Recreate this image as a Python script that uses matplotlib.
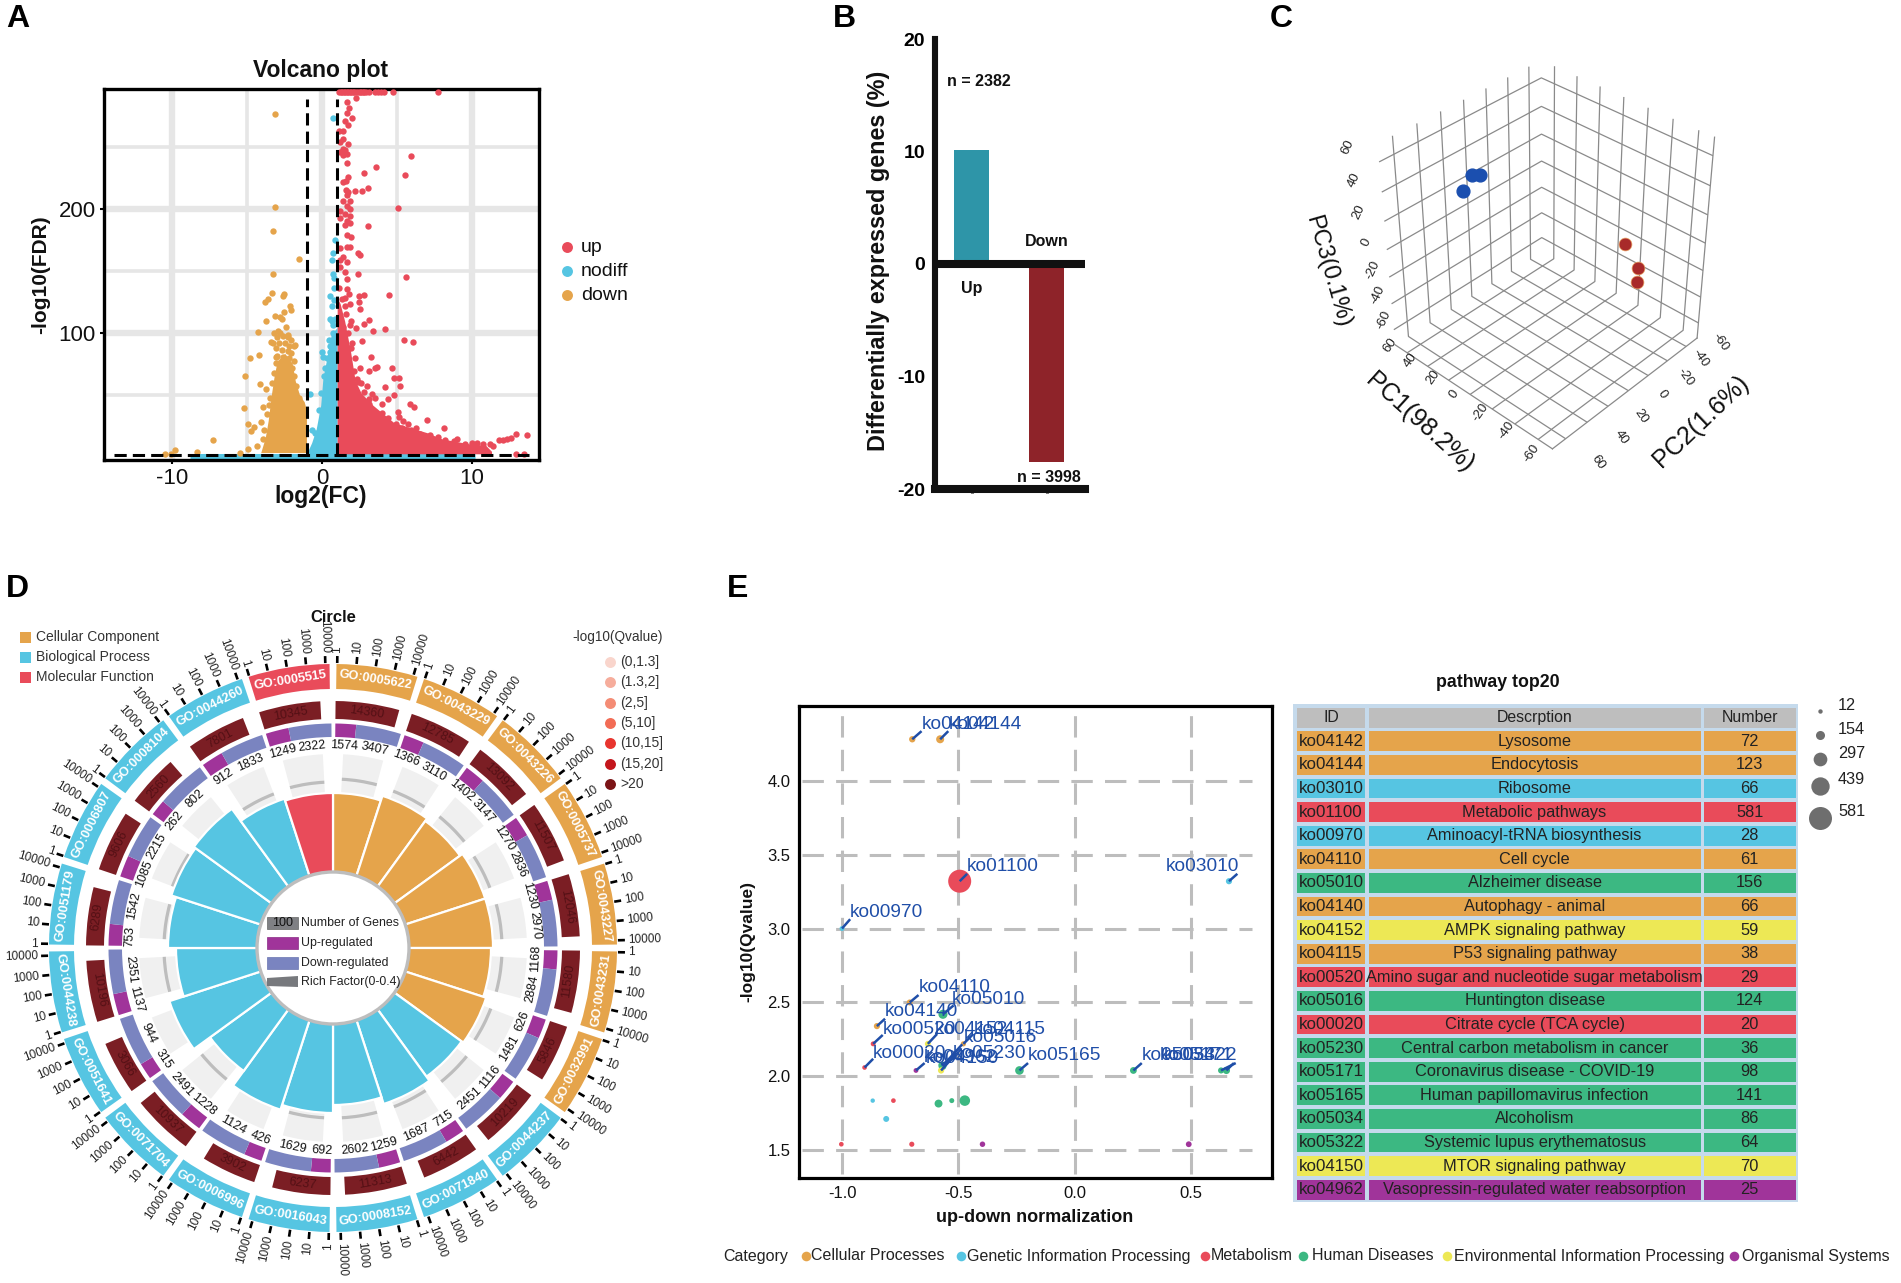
import numpy as np
import matplotlib
matplotlib.use("Agg")
import matplotlib.pyplot as plt
from matplotlib.patches import Rectangle, Polygon, Circle

plt.rcParams['font.family'] = ['Liberation Sans', 'DejaVu Sans']
plt.rcParams['axes.unicode_minus'] = False
W, H = 1901, 1283
fig = plt.figure(figsize=(W / 100, H / 100), dpi=100, facecolor='white')

ORANGE, BLUE, RED = '#E5A44B', '#56C5E2', '#E94B5A'
GREEN, YELLOW, PURPLE = '#3CB882', '#EDE855', '#A0349A'


def px_axes(l, t, r, b, **kw):
    return fig.add_axes([l / W, 1 - b / H, (r - l) / W, (b - t) / H], **kw)


# ---------------------------- A: volcano data ---------------------------
up_x = [1.65, 2.29, 1.82, 1.65, 2.0, 1.5, 1.74, 1.13, 1.36, 1.36, 1.22, 1.74, 1.36, 1.5, 1.22, 1.65, 1.42, 5.9,
        1.68, 3.56, 2.78, 5.53, 1.74, 1.56, 1.36, 3.04, 2.66, 1.6, 1.74, 2.17, 1.65, 5.09, 1.36, 1.88, 1.65, 1.22,
        1.88, 1.5, 1.22, 1.88, 3.04, 1.65, 1.5, 1.88, 1.65, 1.94, 1.22, 1.88, 1.65, 2.37, 2.52, 1.36, 1.22, 1.65,
        1.16, 2.37, 1.5, 1.65, 5.6, 1.13, 1.65, 1.8, 4.46, 2.8, 2.46, 1.5, 2.46, 1.88, 2.52, 3.1, 2.8, 4.2, 3.39,
        1.88, 2.23, 5.47, 6.05, 2.66, 1.94, 3.24, 3.68, 4.63, 3.53, 3.1, 4.78, 5.12, 2.37, 5.18, 4.17, 2.8, 3.33,
        4.78, 4.4, 3.97, 3.1, 5.85, 6.14, 5.07, 3.82, 5.12, 5.41, 7.0, 4.2, 5.7, 6.28, 8.16, 5.27, 4.7, 9.03, 12.94,
        13.66, 12.36, 11.8, 11.2, 10.33, 12.94, 13.5,
        1.15, 1.25, 1.35, 1.45, 1.55, 1.65, 1.75, 1.85, 1.95, 2.05, 2.15, 2.25, 2.4, 2.5, 2.6, 2.7, 2.8, 2.9, 3.1,
        3.5, 3.7, 3.9, 4.1, 4.7, 7.7,
        1.3, 1.5, 1.2, 1.6, 1.9, 1.4, 1.7, 2.0, 1.4, 1.8, 2.2, 2.5, 2.1, 2.6, 3.0, 2.3, 3.5, 4.0, 3.1, 4.4, 4.9,
        5.3, 5.9, 6.5, 7.2, 7.7, 8.2, 8.8, 9.5, 10.0, 10.7, 11.4, 12.1, 12.6]
up_y = [287, 290, 282, 278, 274, 271, 268, 263, 263, 257, 254.5, 253, 249, 248, 246, 245, 243.6, 243,
        237.6, 234, 229, 228, 226, 223, 222, 217, 215, 216, 214, 215, 212, 201, 207, 207, 203, 199,
        200, 196, 193, 194.5, 187, 190.5, 187.7, 189, 179, 178, 168.7, 169.5, 170, 164.6, 163, 162, 159, 158,
        153.7, 148, 149.6, 144, 145.5, 137, 136, 132, 131, 131, 130.5, 129, 125, 123.7, 119.6, 111, 108, 103.5, 102,
        107, 104.6, 95, 93, 93.7, 88, 81, 73, 72.5, 72, 70, 64, 64, 61, 58, 57, 53, 51.5,
        50, 47.4, 43, 43, 43, 40.6, 36.5, 33.8, 32.4, 29.7, 30, 27.8, 27, 24, 24, 20, 18.8, 15, 18.8,
        18, 15, 14, 10.6, 12, 2.5, 2.5,
        295, 295, 295, 295, 295, 295, 295, 295, 295, 295, 295, 295, 295, 295, 295, 295, 295, 295, 295,
        295, 295, 295, 295, 295, 295,
        128, 122, 112, 116, 110, 105, 100, 92, 95, 88, 80, 72, 70, 60, 58, 63, 48, 36, 47, 32, 27,
        24, 22, 19, 18, 16.5, 14, 13, 11, 12, 11, 9, 14, 16]
up_band_x = [1.0, 1.2, 1.5, 1.9, 2.2, 2.6, 3.4, 4.8, 7.0, 8.0, 10.0, 10.9, 11.3]
up_band_top = [129, 124, 110, 85, 62, 52, 42, 28, 20, 15, 10.6, 10, 5]

down_x = [-3.17, -3.15, -3.28, -1.56, -3.3, -3.37, -2.52, -2.63, -3.6, -3.82, -2.12, -2.06, -2.56, -3.12, -2.83,
          -2.69, -3.72, -2.4, -4.27, -2.98, -2.26, -3.4, -1.82, -4.19, -4.8, -3.1, -5.17, -4.15, -3.75, -5.25, -3.97,
          -4.95, -4.08, -4.75, -4.55, -7.26, -9.84, -10.1, -10.5, -8.35, -5.5, -4.95, -4.37,
          -3.2, -3.0, -2.8, -2.6, -2.3, -2.1, -3.25, -2.9, -2.5, -2.2, -1.9, -3.1, -2.7, -2.3, -2.05, -3.0, -2.6,
          -2.2, -1.9, -3.1, -2.8, -2.4, -2.0, -3.2, -1.85, -3.35, -1.75, -3.5, -3.55, -1.55, -3.7, -3.85, -3.95]
down_y = [277, 202, 183, 160, 148, 133, 132, 130, 128, 125, 122, 119, 117, 114, 113,
          112, 110, 105, 101, 102, 99, 93, 90.5, 83, 80, 81, 66, 59.5, 55, 40, 41,
          27, 29, 21, 25, 14, 6, 2.5, 3, 4.5, 4, 7, 9,
          100, 97, 100, 98, 97, 95, 92, 92, 92, 90, 90, 88, 87, 86, 84, 82, 81,
          80, 78, 76, 75, 74, 72, 68, 66, 60, 58, 48, 42, 48, 35, 22, 15]
down_band_x = [-4.1, -3.8, -3.6, -3.4, -3.2, -3.0, -2.5, -2.0, -1.8, -1.5, -1.2, -1.05]
down_band_top = [4, 16, 30, 50, 66, 78, 84, 76, 62, 50, 45, 38]

nodiff_x = [0.75, 0.84, 0.72, 0.63, 0.72, 0.78, 0.78, 0.55, 0.78, 0.64, 0.49, 0.72, 0.06, 0.49, -0.81, -0.67,
            0.1, 0.3, 0.5, 0.7, 0.2, -0.05, -0.2, -0.5, 0.0, 0.45, 0.65, 0.85]
nodiff_y = [274, 175, 165, 159, 148, 145, 137, 130, 127, 122, 112, 107, 81, 85, 51, 22,
            66, 80, 90, 100, 72, 52, 38, 20, 85, 95, 110, 112]
nodiff_band_x = [-1.0, -0.7, -0.4, -0.1, 0.05, 0.26, 0.6, 1.0]
nodiff_band_top = [4, 12, 23, 42, 64, 77, 99, 105]
nodiff_strip_x = [-8.8, 10.2]
nodiff_strip_y = [1.6, 1.6]
volcano_names = ['up', 'nodiff', 'down']

# ---------------------------- B ------------------------------------------
deg_categories = [0, 1]
deg_values = [10.1, -17.6]
deg_counts = ['n = 2382', 'n = 3998']

# ---------------------------- C ------------------------------------------
pc_blue_1 = [45, 45, 45]
pc_blue_2 = [21, 14, 29]
pc_blue_3 = [40, 37, 33]
pc_red_1 = [-45, -45, -45]
pc_red_2 = [-24, -38, -38]
pc_red_3 = [10, -14, -24]
pc_ticks = [-60, -40, -20, 0, 20, 40, 60]

# ---------------------------- D ------------------------------------------
go_ids = ['GO:0005622', 'GO:0043229', 'GO:0043226', 'GO:0005737', 'GO:0043227', 'GO:0043231', 'GO:0032991',
          'GO:0044237', 'GO:0071840', 'GO:0008152', 'GO:0016043', 'GO:0006996', 'GO:0071704', 'GO:0051641',
          'GO:0044238', 'GO:0051179', 'GO:0006807', 'GO:0008104', 'GO:0044260', 'GO:0005515']
go_class = ['C'] * 7 + ['B'] * 12 + ['M']
go_total = [14360, 12785, 13092, 11507, 12046, 11580, 5846, 10219, 6442, 11313, 6237, 3902, 10937, 3066, 10196,
            6289, 9606, 2560, 7801, 10345]
go_up = [1574, 1366, 1402, 1270, 1230, 1168, 626, 1116, 715, 1259, 692, 426, 1228, 315, 1137, 753, 1085, 262, 912,
         1249]
go_down = [3407, 3110, 3147, 2836, 2970, 2884, 1481, 2451, 1687, 2602, 1629, 1124, 2491, 944, 2351, 1542, 2215, 802,
           1833, 2322]
go_bar_r = [155, 160, 157, 160, 160, 158, 161, 159, 164, 157, 165, 170, 152, 172, 157, 165, 170, 172, 157, 155]
go_rich_r = [169, 168, 169, 168, 169, 169, 169, 172, 170, 170, 170, 168, 169, 160, 169, 169, 172, 160, 165, 166]
go_log_ticks = [1, 10, 100, 1000, 10000]
class_names = ['Cellular Component', 'Biological Process', 'Molecular Function']
q_names = ['(0,1.3]', '(1.3,2]', '(2,5]', '(5,10]', '(10,15]', '(15,20]', '>20']
q_colors = ['#F9D5CC', '#F6AD9C', '#F48C75', '#F26C55', '#E8352E', '#C4161C', '#7B1416']

# ---------------------------- E ------------------------------------------
ko_ids = ['ko04142', 'ko04144', 'ko03010', 'ko01100', 'ko00970', 'ko04110', 'ko05010', 'ko04140', 'ko04152',
          'ko04115', 'ko00520', 'ko05016', 'ko00020', 'ko05230', 'ko05171', 'ko05165', 'ko05034', 'ko05322',
          'ko04150', 'ko04962']
ko_desc = ['Lysosome', 'Endocytosis', 'Ribosome', 'Metabolic pathways', 'Aminoacyl-tRNA biosynthesis', 'Cell cycle',
           'Alzheimer disease', 'Autophagy - animal', 'AMPK signaling pathway', 'P53 signaling pathway',
           'Amino sugar and nucleotide sugar metabolism', 'Huntington disease', 'Citrate cycle (TCA cycle)',
           'Central carbon metabolism in cancer', 'Coronavirus disease - COVID-19', 'Human papillomavirus infection',
           'Alcoholism', 'Systemic lupus erythematosus', 'MTOR signaling pathway',
           'Vasopressin-regulated water reabsorption']
ko_number = [72, 123, 66, 581, 28, 61, 156, 66, 59, 38, 29, 124, 20, 36, 98, 141, 86, 64, 70, 25]
ko_cat = ['Cel', 'Cel', 'Gen', 'Met', 'Gen', 'Cel', 'Hum', 'Cel', 'Env', 'Cel', 'Met', 'Hum', 'Met', 'Hum', 'Hum',
          'Hum', 'Hum', 'Hum', 'Env', 'Org']
ko_norm = [-0.698, -0.578, 0.664, -0.494, -1.0, -0.709, -0.566, -0.85, -0.631, -0.478, -0.866, -0.568, -0.903,
           -0.574, 0.653, -0.237, 0.253, 0.63, -0.574, -0.682]
ko_q = [4.28, 4.28, 3.32, 3.32, 3.0, 2.5, 2.42, 2.34, 2.22, 2.22, 2.22, 2.07, 2.06, 2.08, 2.04, 2.04, 2.04, 2.04,
        2.04, 2.04]
label_x = [-0.658, -0.543, 0.391, -0.462, -0.965, -0.671, -0.528, -0.815, -0.60, -0.435, -0.825, -0.475, -0.866,
           -0.523, 0.367, -0.20, 0.289, 0.383, -0.642, -0.647]
label_y = [4.383, 4.383, 3.418, 3.418, 3.11, 2.60, 2.52, 2.44, 2.32, 2.32, 2.32, 2.26, 2.157, 2.157, 2.14, 2.14,
           2.14, 2.14, 2.124, 2.13]
tip_x = [-0.658, -0.543, 0.70, -0.462, -0.965, -0.671, -0.52, -0.815, -0.591, -0.435, -0.825, -0.483, -0.866, -0.507,
         0.685, -0.20, 0.289, 0.693, -0.507, -0.645]
tip_y = [4.335, 4.335, 3.37, 3.37, 3.063, 2.55, 2.48, 2.39, 2.287, 2.287, 2.28, 2.217, 2.119, 2.13, 2.09, 2.09, 2.09,
         2.09, 2.157, 2.09]
extra_norm = [-0.868, -0.779, -0.585, -0.528, -0.472, -0.81, -1.003, -0.70, -0.396, 0.491]
extra_q = [1.836, 1.836, 1.816, 1.836, 1.836, 1.712, 1.541, 1.541, 1.541, 1.541]
extra_number = [12, 20, 120, 30, 200, 60, 20, 35, 45, 55]
extra_cat = ['Gen', 'Met', 'Hum', 'Hum', 'Hum', 'Gen', 'Met', 'Met', 'Org', 'Org']
size_legend = [12, 154, 297, 439, 581]
cat_names = ['Cellular Processes', 'Genetic Information Processing', 'Metabolism', 'Human Diseases',
             'Environmental Information Processing', 'Organismal Systems']
cat_colors = {'Cel': ORANGE, 'Gen': BLUE, 'Met': RED, 'Hum': GREEN, 'Env': YELLOW, 'Org': PURPLE}

# ========================================================================
ov = fig.add_axes([0, 0, 1, 1], zorder=50)
ov.set_xlim(0, W)
ov.set_ylim(H, 0)
ov.axis('off')
ov.patch.set_alpha(0)


def T(x, y, s, **kw):
    kw.setdefault('ha', 'center')
    kw.setdefault('va', 'center')
    kw.setdefault('color', '#111111')
    return ov.text(x, y, s, **kw)


for letter, lx, ly in [('A', 6, 19), ('B', 833, 19), ('C', 1270, 19), ('D', 6, 589), ('E', 727, 589)]:
    T(lx, ly, letter, ha='left', fontsize=23, fontweight='bold', color='black')

# ---- A
a = px_axes(104, 88.5, 539, 459.5)
a.set_xlim(-14.56, 14.47)
a.set_ylim(-1.6, 297.5)
a.set_xticks([-10, 0, 10])
a.set_yticks([100, 200])
a.set_xticks([-5, 5], minor=True)
a.set_yticks([50, 150, 250], minor=True)
a.grid(which='major', color='#E6E6E6', lw=4.6)
a.grid(which='minor', color='#E6E6E6', lw=2.6)
a.set_axisbelow(True)
a.tick_params(which='minor', length=0)
a.tick_params(which='major', labelsize=16, length=3, width=1.5, pad=3, labelcolor='#111111')
for s in a.spines.values():
    s.set_linewidth(2.4)
a.plot(nodiff_strip_x, nodiff_strip_y, color=BLUE, lw=3.6, solid_capstyle='butt', zorder=2)
a.fill_between(nodiff_band_x, 2, nodiff_band_top, color=BLUE, lw=0, zorder=2)
a.fill_between(down_band_x, 4, down_band_top, color=ORANGE, lw=0, zorder=2)
a.fill_between(up_band_x, 3, up_band_top, color=RED, lw=0, zorder=2)
a.scatter(nodiff_x, nodiff_y, s=21, color=BLUE, lw=0, zorder=2)
a.scatter(down_x, down_y, s=21, color=ORANGE, lw=0, zorder=2)
a.scatter(up_x, up_y, s=21, color=RED, lw=0, zorder=3)
for v in (-1, 1):
    a.plot([v, v], [2, 289], color='black', lw=2.2, ls=(0, (4, 2)), zorder=4)
a.plot([-13.9, 13.8], [2, 2], color='black', lw=2.2, ls=(0, (4, 2)), zorder=4)
T(321, 70, 'Volcano plot', fontsize=16.5, fontweight='bold')
T(321, 497, 'log2(FC)', fontsize=16.5, fontweight='bold')
T(41, 275, '-log10(FDR)', fontsize=15, fontweight='bold', rotation=90)
for name, col, y in zip(volcano_names, [RED, BLUE, ORANGE], [247, 271, 295]):
    ov.scatter([567], [y], s=62, color=col, lw=0)
    T(581, y, name, ha='left', fontsize=14)

# ---- B
b = px_axes(935, 39, 1085, 489)
b.set_xlim(-0.487, 1.505)
b.set_ylim(-20, 20)
b.bar(deg_categories, deg_values, width=0.465, color=['#2E95A8', '#8E2329'], zorder=1)
b.axhline(0, color='#111111', lw=5.8, zorder=3)
for k in ('top', 'right'):
    b.spines[k].set_visible(False)
b.spines['left'].set_linewidth(4.4)
b.spines['bottom'].set_linewidth(5.8)
b.spines['left'].set_color('#111111')
b.spines['bottom'].set_color('#111111')
b.set_xticks(deg_categories)
b.set_xticklabels([])
b.set_yticks([-20, -10, 0, 10, 20])
b.tick_params(axis='y', length=0, pad=7, labelsize=14)
b.tick_params(axis='x', length=3, width=2.2)
for lab in b.get_yticklabels():
    lab.set_fontweight('bold')
T(979, 82, deg_counts[0], fontsize=11.5, fontweight='bold')
T(1049, 477, deg_counts[1], fontsize=11.5, fontweight='bold')
T(971.7, 289, 'Up', fontsize=11.5, fontweight='bold')
T(1047, 241, 'Down', fontsize=11.5, fontweight='bold')
T(878, 261, 'Differentially expressed genes (%)', fontsize=16.8, fontweight='bold', rotation=90)

# ---- C
c = fig.add_axes([1290 / W, 1 - 498 / H, 500 / W, 490 / H], projection='3d', zorder=5)
c.patch.set_alpha(0)
c.set_proj_type('persp', focal_length=0.5)
c.view_init(elev=36, azim=133)
c.set_box_aspect((1, 1, 1.1), zoom=0.8)
c.set_xlim(-72, 72)
c.set_ylim(-72, 72)
c.set_zlim(-72, 72)
c.set_xticks(pc_ticks)
c.set_yticks(pc_ticks)
c.set_zticks(pc_ticks)
c.set_xticklabels([])
c.set_yticklabels([])
c.set_zticklabels([])
for axis in (c.xaxis, c.yaxis, c.zaxis):
    axis.set_pane_color((1, 1, 1, 0))
    axis.pane.set_edgecolor((0, 0, 0, 0))
    axis.line.set_color('#8A8A8A')
    axis.line.set_linewidth(0.9)
    axis._axinfo['grid']['color'] = '#8A8A8A'
    axis._axinfo['grid']['linewidth'] = 0.9
    axis._axinfo['tick']['inward_factor'] = 0
    axis._axinfo['tick']['outward_factor'] = 0
c.scatter(pc_blue_1, pc_blue_2, pc_blue_3, s=85, color='#1B4FAF', depthshade=False)
c.scatter(pc_red_1, pc_red_2, pc_red_3, s=85, color='#A82A2A', edgecolor='#E8A060', linewidth=0.5, depthshade=False)
# tick labels sit at fixed places round the box, in the order of pc_ticks
pc1_label_at = [(1531, 453), (1506, 430), (1480, 412), (1454, 394), (1433, 377), (1410, 360), (1390, 345)]
pc2_label_at = [(1720, 342), (1700, 358), (1685, 377), (1662, 394), (1641, 416), (1621, 437), (1598, 462)]
pc3_label_at = [(1384, 320), (1378, 295), (1373, 270), (1366, 242), (1359, 212), (1354, 180), (1348, 147)]
for t, p1, p2, p3 in zip(pc_ticks, pc1_label_at, pc2_label_at, pc3_label_at):
    T(p1[0], p1[1], str(t), fontsize=9.5, rotation=55, color='#222222')
    T(p2[0], p2[1], str(t), fontsize=9.5, rotation=-55, color='#222222')
    T(p3[0], p3[1], str(t), fontsize=9.5, rotation=65, color='#222222')
T(1420, 423, 'PC1(98.2%)', fontsize=18, rotation=-42)
T(1700.5, 421.6, 'PC2(1.6%)', fontsize=18, rotation=43.5)
T(1327.5, 271.7, 'PC3(0.1%)', fontsize=17, rotation=-74)

# ---- D
R = 330
d = px_axes(333 - R, 948 - R, 333 + R, 948 + R, projection='polar', zorder=4)
d.set_theta_zero_location('N')
d.set_theta_direction(-1)
d.set_ylim(0, R)
d.axis('off')
d.patch.set_alpha(0)
class_col = {'C': ORANGE, 'B': BLUE, 'M': RED}
rad = np.deg2rad


def tangent(th):
    th = th % 360
    return -th if (th < 90 or th > 270) else 180 - th


def radial(th):
    th = th % 360
    return (90 - th, 'left') if th <= 180 else (270 - th, 'right')


for i, go in enumerate(go_ids):
    s0 = i * 18.0
    col = class_col[go_class[i]]
    d.bar(rad(s0 + 9), 194 - 150, width=rad(12), bottom=150, color='#F0F0F0', lw=0, zorder=1)
    d.bar(rad(s0 + 9), 3.2, width=rad(12), bottom=go_rich_r[i] - 1.6, color='#BDBDBD', lw=0, zorder=2)
    d.bar(rad(s0 + 9), go_bar_r[i] - 70, width=rad(18), bottom=70, color=col, edgecolor='white', lw=1.6, zorder=3)
    span = 17.0
    frac = go_up[i] / (go_up[i] + go_down[i])
    start = s0 + 0.6
    d.bar(rad(start + span * frac / 2), 13.5, width=rad(span * frac), bottom=211, color=PURPLE, lw=0, zorder=3)
    d.bar(rad(start + span * frac + span * (1 - frac) / 2), 13.5, width=rad(span * (1 - frac)), bottom=211,
          color='#7A84C0', lw=0, zorder=3)
    arc = 3.6 * np.log10(go_total[i])
    d.bar(rad(s0 + 0.6 + arc / 2), 18, width=rad(arc), bottom=229, color='#7B1E24', lw=0, zorder=3)
    d.bar(rad(s0 + 9), 25, width=rad(16.6), bottom=259, color=col, lw=0, zorder=3)
    for th, r, s, kw in [
        (s0 + 9, 271.5, go, dict(color='white', fontsize=9.2, fontweight='bold')),
        (s0 + 0.6 + arc / 2, 238, f'{go_total[i]}', dict(color='#541015', fontsize=9)),
        (start + span * frac / 2, 203, f'{go_up[i]}', dict(color='#111111', fontsize=9)),
        (start + span * frac + span * (1 - frac) / 2, 203, f'{go_down[i]}', dict(color='#111111', fontsize=9)),
    ]:
        d.text(rad(th), r, s, rotation=tangent(th), rotation_mode='anchor', ha='center', va='center', zorder=6, **kw)
    for k, tick in enumerate(go_log_ticks):
        th = s0 + 0.85 + 3.9 * np.log10(tick)
        d.plot([rad(th), rad(th)], [285, 292], color='black', lw=1.9, solid_capstyle='butt', zorder=3)
        rot, ha = radial(th)
        d.text(rad(th), 295, f'{tick}', rotation=rot, rotation_mode='anchor', ha=ha, va='center', fontsize=8.5,
               color='#222222', zorder=6)
disc = Circle((333, 948), 76, facecolor='white', edgecolor='#BDBDBD', lw=2.4, zorder=1)
ov.add_patch(disc)
ov.add_patch(Rectangle((267, 917), 31, 12, facecolor='#7F8084', edgecolor='#666666', lw=0.5))
T(282.5, 923, '100', fontsize=9)
ov.add_patch(Rectangle((267, 937), 31, 12, facecolor=PURPLE, edgecolor='#8A2A85', lw=0.5))
ov.add_patch(Rectangle((267, 957), 31, 12, facecolor='#7A84C0', edgecolor='#6A74B0', lw=0.5))
ov.add_patch(Polygon([(267, 978), (298, 976), (298, 987), (267, 986)], facecolor='#77797D', edgecolor='none'))
for y, s in zip([923, 943, 963, 982], ['Number of Genes', 'Up-regulated', 'Down-regulated', 'Rich Factor(0-0.4)']):
    T(301, y, s, ha='left', fontsize=8.9, color='#222222')
T(333, 618, 'Circle', fontsize=12, fontweight='bold')
for name, col, y in zip(class_names, [ORANGE, BLUE, RED], [637, 657, 677]):
    ov.add_patch(Rectangle((20, y - 5.5), 11, 11, facecolor=col, edgecolor='none'))
    T(36, y, name, ha='left', fontsize=10, color='#333333')
T(618, 637, '-log10(Qvalue)', fontsize=9.8, color='#333333')
for name, col, y in zip(q_names, q_colors, [662, 682, 703, 723, 743, 764, 784]):
    ov.scatter([610], [y], s=62, color=col, lw=0)
    T(620, y, name, ha='left', fontsize=10, color='#333333')

# ---- E
e = px_axes(799, 706, 1272, 1177.5)
e.set_xlim(-1.185, 0.849)
e.set_ylim(1.316, 4.505)
e.set_xticks([-1.0, -0.5, 0.0, 0.5])
e.set_yticks([1.5, 2.0, 2.5, 3.0, 3.5, 4.0])
e.tick_params(length=0, labelsize=12, pad=6, labelcolor='#111111')
grid_style = dict(color='#BDBDBD', lw=2.2, ls=(0, (7, 4)), zorder=1)
for yv in e.get_yticks():
    e.plot([-1.17, 0.765], [yv, yv], **grid_style)
for xv in e.get_xticks():
    e.plot([xv, xv], [1.34, 4.49], **grid_style)
for s in e.spines.values():
    s.set_linewidth(2.3)


def sizes(numbers):
    radius_px = 2 + 9.5 * np.asarray(numbers, dtype=float) / 581
    return (2 * radius_px * 0.72) ** 2


e.scatter(ko_norm, ko_q, s=sizes(ko_number), c=[cat_colors[k] for k in ko_cat], lw=0, zorder=3)
e.scatter(extra_norm, extra_q, s=sizes(extra_number), c=[cat_colors[k] for k in extra_cat], lw=0, zorder=3)
for i, ko in enumerate(ko_ids):
    e.plot([ko_norm[i], tip_x[i]], [ko_q[i], tip_y[i]], color='#1F4EA8', lw=1.8, zorder=4, solid_capstyle='butt')
    e.text(label_x[i], label_y[i], ko, color='#1F4EA8', fontsize=13.8, ha='left', va='center', zorder=5)
T(1035, 1218, 'up-down normalization', fontsize=13, fontweight='bold')
T(748, 941, '-log10(Qvalue)', fontsize=12.5, fontweight='bold', rotation=90)

# table
tb = px_axes(1293, 704, 1798, 1202)
tb.set_xlim(1293, 1798)
tb.set_ylim(20.525, -0.585)
tb.set_facecolor('#C5DAEC')
tb.set_xticks([])
tb.set_yticks([])
for s in tb.spines.values():
    s.set_visible(False)
col_left = [1296.6, 1368.6, 1704]
col_width = [68.4, 332, 91.5]
rows = np.arange(1, 21)
row_colors = [cat_colors[k] for k in ko_cat]
for cl, cw in zip(col_left, col_width):
    tb.barh(rows, cw, left=cl, height=0.84, color=row_colors, lw=0)
    tb.barh([0], cw, left=cl, height=0.87, color='#BEBEBE', lw=0)
for x, s in zip([1331, 1534.6, 1749.7], ['ID', 'Descrption', 'Number']):
    tb.text(x, 0, s, ha='center', va='center', fontsize=11.4, color='#222222')
for i in range(20):
    tb.text(1331, i + 1, ko_ids[i], ha='center', va='center', fontsize=12.2, color='#222222')
    tb.text(1534.6, i + 1, ko_desc[i], ha='center', va='center', fontsize=11.8, color='#222222', clip_on=False)
    tb.text(1749.7, i + 1, str(ko_number[i]), ha='center', va='center', fontsize=11.8, color='#222222')
T(1498, 682.5, 'pathway top20', fontsize=12.8, fontweight='bold')
for n, yd, yt in zip(size_legend, [711, 735, 758.6, 785.7, 817.5], [706, 730, 753, 780, 812]):
    ov.scatter([1820], [yd], s=sizes([n]), color='#6E6E6E', lw=0)
    T(1838, yt, str(n), ha='left', fontsize=11.7, color='#222222')
T(723, 1256, 'Category', ha='left', fontsize=11.5, color='#222222')
for name, col, dx, tx in zip(cat_names, [ORANGE, BLUE, RED, GREEN, YELLOW, PURPLE],
                             [806, 961, 1205, 1303, 1447, 1734], [811.4, 967, 1211, 1312, 1454, 1742]):
    ov.scatter([dx], [1256], s=48, color=col, lw=0)
    T(tx, 1256, name, ha='left', fontsize=11.5, color='#222222')

fig.savefig('out.png', dpi=100)
